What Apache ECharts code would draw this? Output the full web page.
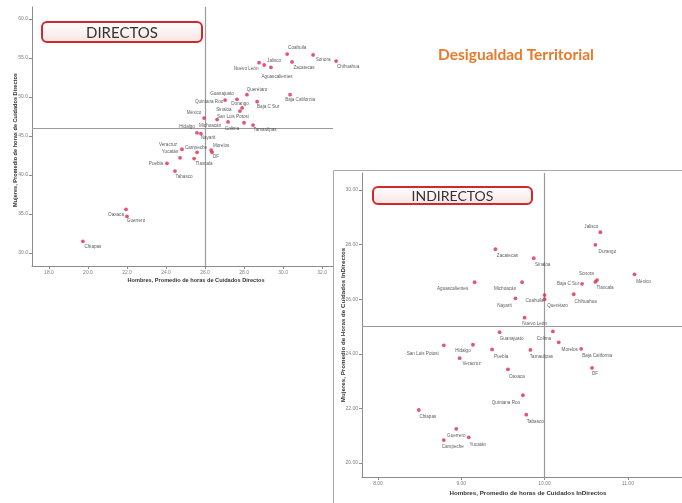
<!DOCTYPE html>
<html><head><meta charset="utf-8">
<script src="https://cdn.jsdelivr.net/npm/echarts@6/dist/echarts.min.js"></script>
<style>html,body{margin:0;padding:0;background:#fff}#c{width:682px;height:503px}</style>
</head><body><div id="c"></div>
<script>
const states = ["Aguascalientes","Baja California","Baja C Sur","Campeche","Coahuila","Colima","Chiapas","Chihuahua","DF","Durango","Guanajuato","Guerrero","Hidalgo","Jalisco","México","Michoacán","Morelos","Nayarit","Nuevo León","Oaxaca","Puebla","Querétaro","Quintana Roo","San Luis Potosí","Sinaloa","Sonora","Tabasco","Tamaulipas","Tlaxcala","Veracruz","Yucatán","Zacatecas"];
// Cuidados directos
const menDirect   = [29.38,30.36,28.67,25.59,30.21,28.00,19.74,32.72,26.36,27.90,27.64,22.00,25.59,29.03,25.95,26.62,26.31,25.79,28.77,21.95,24.05,28.15,27.03,27.18,27.79,31.54,24.46,28.46,25.44,24.82,24.72,30.46];
const womenDirect = [53.8,50.3,49.4,42.9,55.5,46.7,31.5,54.6,42.9,48.6,49.7,34.7,45.4,54.1,47.3,47.1,43.2,45.3,54.4,35.6,41.5,50.3,49.6,46.8,48.2,55.4,40.5,46.4,42.1,43.3,42.2,54.5];
// Cuidados indirectos
const menIndirect   = [9.16,10.44,10.45,8.79,10.00,10.10,8.49,10.35,10.57,10.61,9.46,8.94,9.14,10.67,11.08,9.73,10.17,9.65,9.76,9.56,9.37,10.00,9.74,8.79,9.87,10.61,9.78,9.83,10.63,8.98,9.09,9.41];
const womenIndirect = [26.62,24.18,26.56,20.84,26.15,24.82,21.94,26.18,23.48,27.99,24.79,21.25,24.33,28.45,26.91,26.62,24.42,26.03,25.32,23.43,24.16,26.00,22.48,24.31,27.50,26.63,21.77,24.14,26.70,23.84,20.94,27.83];
const refDirect = [26.0, 46.0];      // men, women
const refIndirect = [10.0, 25.0];
const xTicksDirect = [18,20,22,24,26,28,30,32];
const yTicksDirect = [30,35,40,45,50,55,60];
const xTicksIndirect = [8,9,10,11];
const yTicksIndirect = [20,22,24,26,28,30];

// label placement (style only)
const offD = {"Coahuila":[10,-6],"Sonora":[10,5],"Chihuahua":[12,6],"Nuevo León":[-13,6],"Jalisco":[10,-4],"Aguascalientes":[6,9],"Zacatecas":[12,6],"Baja California":[10,5],"Querétaro":[10,-5],"Guanajuato":[-15,-6],"Quintana Roo":[-16,2],"Baja C Sur":[11,5],"Durango":[-2,-4],"Sinaloa":[-16,-1],"México":[-10,-5],"Michoacán":[-7,6],"San Luis Potosí":[5,-5],"Colima":[-12,6],"Tamaulipas":[12,5],"Hidalgo":[-10,-6],"Nayarit":[7,4],"Veracruz":[-14,-5],"Campeche":[-1,-5],"Morelos":[10,-4],"DF":[4,4],"Yucatán":[-10,-6],"Tlaxcala":[10,5],"Puebla":[-11,0],"Tabasco":[9,6],"Oaxaca":[-10,5],"Guerrero":[9,4],"Chiapas":[10,5]};
const offI = {"Jalisco":[-9,-6],"Durango":[12,7],"Zacatecas":[12,7],"Sinaloa":[9,7],"Sonora":[-9,-8],"Tlaxcala":[8,8],"México":[9,7],"Baja C Sur":[-14,0],"Aguascalientes":[-22,7],"Michoacán":[-17,7],"Chihuahua":[12,7],"Coahuila":[-10,6],"Querétaro":[13,7],"Nayarit":[-11,7],"Nuevo León":[10,6],"Guanajuato":[12,7],"Colima":[-9,7],"Morelos":[11,7],"Baja California":[16,7],"San Luis Potosí":[-21,8],"Hidalgo":[-10,6],"Puebla":[9,7],"Tamaulipas":[11,7],"Veracruz":[12,6],"DF":[3,6],"Oaxaca":[9,7],"Quintana Roo":[-17,7],"Chiapas":[9,7],"Tabasco":[9,7],"Guerrero":[0,7],"Yucatán":[9,7],"Campeche":[9,7]};

const chart = echarts.init(document.getElementById('c'), null, {renderer:'canvas'});
const FONT = 'Liberation Sans, Arial, sans-serif';
function pts(xs, ys, off){
  return states.map((s,i)=>({name:s, value:[xs[i], ys[i]], label:{offset:off[s]||[8,6]}}));
}
function ax(grid, min, max, ticks, dec){
  return {gridIndex:grid, type:'value', min:min, max:max,
    axisLine:{show:true, onZero:false, lineStyle:{color:'#8c8c8c', width:1}},
    axisTick:{show:true, length:3, customValues:ticks, lineStyle:{color:'#8c8c8c'}},
    axisLabel:{customValues:ticks, fontSize:5, color:'#808080', margin:4, fontFamily:FONT, formatter:v=>v.toFixed(dec)},
    splitLine:{show:false}};
}
const seriesBase = {type:'scatter', symbol:'circle', symbolSize:3.8, clip:false,
  itemStyle:{color:'#d92c50'},
  label:{show:true, position:'inside', formatter:p=>p.name, fontSize:4.6, color:'#333', fontFamily:FONT},
  z:5};
const mlBase = {silent:true, symbol:'none', label:{show:false},
  lineStyle:{color:'#9a9a9a', type:'solid', width:1.2}, emphasis:{disabled:true}, animation:false};

const titleBox = (x,y,w,h,text,fs)=>({type:'group', z:100, children:[
  {type:'rect', shape:{x:x,y:y,width:w,height:h,r:5},
   style:{fill:new echarts.graphic.LinearGradient(0,0,0,1,[{offset:0,color:'#ffffff'},{offset:1,color:'#f7e4e4'}]),
          stroke:'#d3272e', lineWidth:2}},
  {type:'text', style:{text:text, x:x+w/2, y:y+h/2+1, textAlign:'center', textVerticalAlign:'middle',
   fontSize:fs, fontFamily:'Lato, sans-serif', fill:'#333'}}
]});

chart.setOption({
  animation:false,
  backgroundColor:'#ffffff',
  grid:[{left:32, top:7, width:301, height:259},
        {left:362, top:173, width:320, height:304}],
  xAxis:[ax(0,17.13,32.56,xTicksDirect,1), ax(1,7.808,11.65,xTicksIndirect,2)],
  yAxis:[ax(0,28.33,61.54,yTicksDirect,1), ax(1,19.487,30.62,yTicksIndirect,2)],
  graphic:[
    {type:'rect', z:0, shape:{x:333.5,y:170.5,width:360,height:340}, style:{fill:'#fff', stroke:'#a8a8a8', lineWidth:1}},
    titleBox(42,22,160,20,'DIRECTOS',15),
    titleBox(373,187,159,17,'INDIRECTOS',14),
    {type:'text', z:100, style:{text:'Desigualdad Territorial', x:516, y:55, textAlign:'center', textVerticalAlign:'middle',
      fontSize:15.5, fontWeight:'bold', fontFamily:'Lato, sans-serif', fill:'#ea7a2a'}},
    {type:'text', z:100, style:{text:'Hombres, Promedio de horas de Cuidados Directos', x:196, y:280, textAlign:'center', textVerticalAlign:'middle',
      fontSize:5.6, fontWeight:'bold', fontFamily:FONT, fill:'#333'}},
    {type:'text', z:100, x:15, y:140, rotation:Math.PI/2, style:{text:'Mujeres, Promedio de horas de Cuidados Directos', x:0, y:0, textAlign:'center', textVerticalAlign:'middle',
      fontSize:5.6, fontWeight:'bold', fontFamily:FONT, fill:'#333'}},
    {type:'text', z:100, style:{text:'Hombres, Promedio de horas de Cuidados InDirectos', x:528, y:493, textAlign:'center', textVerticalAlign:'middle',
      fontSize:6.2, fontWeight:'bold', fontFamily:FONT, fill:'#333'}},
    {type:'text', z:100, x:343, y:325, rotation:Math.PI/2, style:{text:'Mujeres, Promedio de Horas de Cuidados InDirectos', x:0, y:0, textAlign:'center', textVerticalAlign:'middle',
      fontSize:6.2, fontWeight:'bold', fontFamily:FONT, fill:'#333'}}
  ],
  series:[
    Object.assign({}, seriesBase, {xAxisIndex:0, yAxisIndex:0, data:pts(menDirect, womenDirect, offD),
      markLine:Object.assign({}, mlBase, {data:[{xAxis:refDirect[0]},{yAxis:refDirect[1]}]})}),
    Object.assign({}, seriesBase, {xAxisIndex:1, yAxisIndex:1, data:pts(menIndirect, womenIndirect, offI),
      markLine:Object.assign({}, mlBase, {data:[{xAxis:refIndirect[0]},{yAxis:refIndirect[1]}]})})
  ]
});
</script></body></html>
